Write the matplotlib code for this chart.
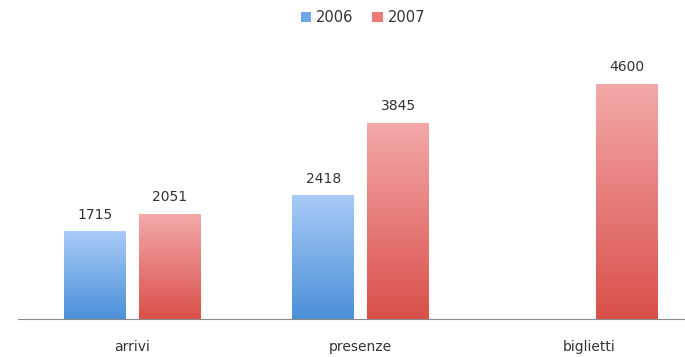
import numpy as np
import matplotlib.pyplot as plt
from matplotlib.colors import LinearSegmentedColormap
from matplotlib.patches import Patch

categorie = ["arrivi", "presenze", "biglietti"]
anni = ["2006", "2007"]
valori_2006 = [1715, 2418, None]
valori_2007 = [2051, 3845, 4600]

blu = LinearSegmentedColormap.from_list("blu", ["#4b8fd8", "#a9cbf7"])
rosso = LinearSegmentedColormap.from_list("rosso", ["#d9504a", "#f3a9a9"])

fig = plt.figure(figsize=(6.85, 3.57), dpi=100)
ax = fig.add_axes([18 / 685, (357 - 319) / 357, 667 / 685, 279 / 357])

x = np.arange(len(categorie))
larghezza = 0.27
offset = 0.164
grad = np.linspace(0, 1, 256).reshape(-1, 1)


def barra(xc, h, cmap):
    if h is None:
        return
    b = ax.bar(xc, h, larghezza, color="none", edgecolor="none")[0]
    im = ax.imshow(grad, cmap=cmap, aspect="auto", origin="lower",
                   extent=[xc - larghezza / 2, xc + larghezza / 2, 0, h], zorder=2)
    im.set_clip_path(b)
    ax.annotate(str(h), (xc, h), xytext=(0, 7), textcoords="offset points",
                ha="center", va="bottom", fontsize=10, color="#333333")


for i in x:
    barra(i - offset, valori_2006[i], blu)
    barra(i + offset, valori_2007[i], rosso)

ax.set_xlim(-0.5, 2.42)
ax.set_ylim(0, 5460)
ax.set_xticks(x)
ax.set_xticklabels(categorie, fontsize=10, color="#333333")
ax.tick_params(axis="x", length=0, pad=15)
ax.set_yticks([])
for s in ["top", "right", "left"]:
    ax.spines[s].set_visible(False)
ax.spines["bottom"].set_color("#8a8a8a")

maniglie = [Patch(facecolor="#6fa6e8", label=anni[0]),
            Patch(facecolor="#ec7a78", label=anni[1])]
fig.legend(handles=maniglie, loc="center", bbox_to_anchor=(0.53, 0.95), ncol=2,
           frameon=False, fontsize=10.5, handlelength=0.7, handleheight=0.7,
           handletextpad=0.35, columnspacing=1.3, labelcolor="#333333")

fig.savefig("out.png", dpi=100)
